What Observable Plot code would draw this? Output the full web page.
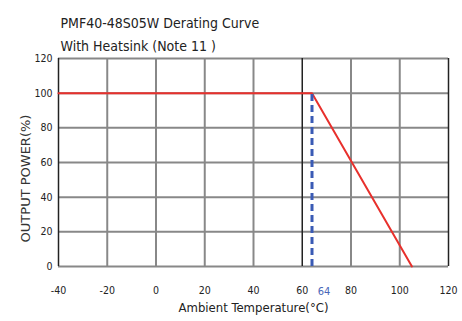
<!DOCTYPE html>
<html>
<head>
<meta charset="utf-8">
<script src="https://cdn.jsdelivr.net/npm/d3@7"></script>
<script src="https://cdn.jsdelivr.net/npm/@observablehq/plot@0.6"></script>
<style>
  body { margin: 0; background: #fff; }
  #chart svg { display: block; }
</style>
</head>
<body>
<div id="chart"></div>
<script>
const titleLines = ["PMF40-48S05W Derating Curve", "With Heatsink (Note 11 )"];
const xLabel = "Ambient Temperature(°C)";
const yLabel = "OUTPUT POWER(%)";
const temps = [-40, 64, 105];
const power = [100, 100, 0];
const xTicks = [-40, -20, 0, 20, 40, 60, 80, 100, 120];
const yTicks = [0, 20, 40, 60, 80, 100, 120];
const darkVerticals = [-40, 60, 120];
const markerTemp = [64];

const curve = temps.map((t, i) => ({t, p: power[i]}));
const font = "'DejaVu Sans Condensed', 'Liberation Sans Narrow', sans-serif";

const chart = Plot.plot({
  width: 462,
  height: 321,
  marginLeft: 58,
  marginRight: 14,
  marginTop: 58,
  marginBottom: 55,
  style: {fontFamily: font, fontSize: "10.5px", color: "#222", background: "#fff"},
  x: {domain: [-40, 120], ticks: xTicks, tickSize: 0, tickPadding: 20, label: null, tickFormat: d => String(d)},
  y: {domain: [0, 120], ticks: yTicks, tickSize: 0, tickPadding: 6, label: null, tickFormat: d => String(d)},
  marks: [
    Plot.ruleY(yTicks, {stroke: "#888", strokeWidth: 2}),
    Plot.ruleX(xTicks.filter(d => !darkVerticals.includes(d)), {stroke: "#888", strokeWidth: 2}),
    Plot.ruleX(darkVerticals, {stroke: "#222", strokeWidth: 1.5}),
    Plot.line(curve, {x: "t", y: "p", stroke: "#e8302c", strokeWidth: 2}),
    Plot.ruleX(markerTemp, {y1: 0, y2: 100, stroke: "#3a5bb5", strokeWidth: 3, strokeDasharray: "7,4"}),
    Plot.text(markerTemp, {x: d => d, y: 0, text: d => String(d), dx: 12, dy: 25, fill: "#4a66b8", fontSize: 11}),
    Plot.text([titleLines[0]], {frameAnchor: "top-left", textAnchor: "start", dx: 2, dy: -40, fontSize: 14}),
    Plot.text([titleLines[1]], {frameAnchor: "top-left", textAnchor: "start", dx: 2, dy: -17, fontSize: 14}),
    Plot.text([xLabel], {frameAnchor: "bottom", dy: 45, fontSize: 13}),
    Plot.text([yLabel], {frameAnchor: "left", textAnchor: "middle", rotate: -90, dx: -33, dy: 16, fontSize: 13, fontFamily: "'DejaVu Sans', sans-serif", letterSpacing: "1.2px", fill: "#333"})
  ]
});
document.getElementById("chart").append(chart);
</script>
</body>
</html>
